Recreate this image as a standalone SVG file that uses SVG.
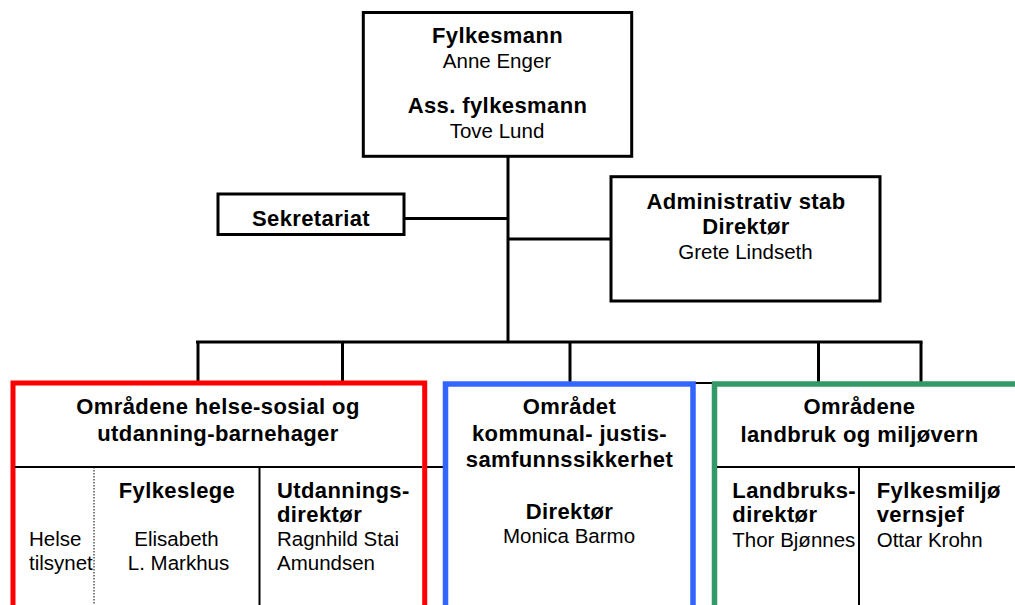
<svg xmlns="http://www.w3.org/2000/svg" width="1015" height="605" viewBox="0 0 1015 605">
<style>
.b{font-family:"Liberation Sans",Arial,sans-serif;font-weight:bold;font-size:22px;letter-spacing:0.4px;fill:#000}
.r{font-family:"Liberation Sans",Arial,sans-serif;font-size:20.5px;fill:#000}
.m{text-anchor:middle}
.box{fill:#fff;stroke:#000;stroke-width:3}
.ln{stroke:#000;stroke-width:3;fill:none}
.thin{stroke:#000;stroke-width:2;fill:none}
</style>
<rect width="1015" height="605" fill="#fff"/>
<g id="connectors">
<line class="ln" x1="508" y1="156" x2="508" y2="343"/>
<line class="ln" x1="404" y1="218.5" x2="508" y2="218.5"/>
<line class="ln" x1="508" y1="239" x2="611" y2="239"/>
<line class="ln" x1="196" y1="342" x2="922.5" y2="342"/>
<line class="ln" x1="198" y1="342" x2="198" y2="382"/>
<line class="ln" x1="342.5" y1="342" x2="342.5" y2="382"/>
<line class="ln" x1="570" y1="342" x2="570" y2="382"/>
<line class="ln" x1="818.5" y1="342" x2="818.5" y2="382"/>
<line class="ln" x1="921" y1="342" x2="921" y2="382"/>
<line class="thin" x1="425" y1="467" x2="446" y2="467"/>
<line class="thin" x1="693" y1="383" x2="714" y2="383"/>
</g>
<g id="fylkesmann">
<rect class="box" x="363.3" y="12.5" width="268.4" height="143.8"/>
<text class="b m" x="497.5" y="43">Fylkesmann</text>
<text class="r m" x="497" y="68">Anne Enger</text>
<text class="b m" x="497.5" y="113">Ass. fylkesmann</text>
<text class="r m" x="497" y="137.5">Tove Lund</text>
</g>
<g id="sekretariat">
<rect class="box" x="218" y="194" width="186" height="40.5"/>
<text class="b m" x="311" y="225.5">Sekretariat</text>
</g>
<g id="adminstab">
<rect class="box" x="611" y="176.7" width="269" height="124.3"/>
<text class="b m" x="746" y="209">Administrativ stab</text>
<text class="b m" x="746" y="234">Direktør</text>
<text class="r m" x="745.5" y="259">Grete Lindseth</text>
</g>
<g id="helse-utdanning">
<rect x="13" y="383" width="411.7" height="260" fill="#fff" stroke="#ff0000" stroke-width="5"/>
<line class="thin" x1="15" y1="467" x2="422" y2="467"/>
<line x1="94" y1="467" x2="94" y2="605" stroke="#000" stroke-width="1" stroke-dasharray="1.5,1.5"/>
<line class="thin" x1="259.5" y1="467" x2="259.5" y2="605"/>
<text class="b m" x="218" y="413.5">Områdene helse-sosial og</text>
<text class="b m" x="218" y="441">utdanning-barnehager</text>
<text class="r" x="29" y="546">Helse</text>
<text class="r" x="29" y="569.5">tilsynet</text>
<text class="b m" x="177" y="497.7">Fylkeslege</text>
<text class="r m" x="176.5" y="546">Elisabeth</text>
<text class="r m" x="178.5" y="569.5">L. Markhus</text>
<text class="b" x="277" y="497.7">Utdannings-</text>
<text class="b" x="277" y="521.7">direktør</text>
<text class="r" x="277" y="546">Ragnhild Stai</text>
<text class="r" x="277" y="570">Amundsen</text>
</g>
<g id="kommunal-justis">
<rect x="445.5" y="384" width="247.5" height="260" fill="#fff" stroke="#3366ff" stroke-width="5.5"/>
<text class="b m" x="569.5" y="414">Området</text>
<text class="b m" x="569.5" y="440.7">kommunal- justis-</text>
<text class="b m" x="569.5" y="466.7">samfunnssikkerhet</text>
<text class="b m" x="569.5" y="519">Direktør</text>
<text class="r m" x="569" y="543.3">Monica Barmo</text>
</g>
<g id="landbruk-miljo">
<rect x="714.5" y="384" width="340" height="260" fill="#fff" stroke="#339966" stroke-width="5.5"/>
<line class="thin" x1="717" y1="467" x2="1015" y2="467"/>
<line class="thin" x1="859" y1="467" x2="859" y2="605"/>
<text class="b m" x="859.5" y="414">Områdene</text>
<text class="b m" x="859.5" y="441.7">landbruk og miljøvern</text>
<text class="b" x="732.3" y="497.7">Landbruks-</text>
<text class="b" x="732.3" y="521.7">direktør</text>
<text class="r" x="732.3" y="546.5">Thor Bjønnes</text>
<text class="b" x="876.7" y="497.7">Fylkesmiljø</text>
<text class="b" x="876.7" y="521.7">vernsjef</text>
<text class="r" x="876.7" y="546.5">Ottar Krohn</text>
</g>
</svg>
